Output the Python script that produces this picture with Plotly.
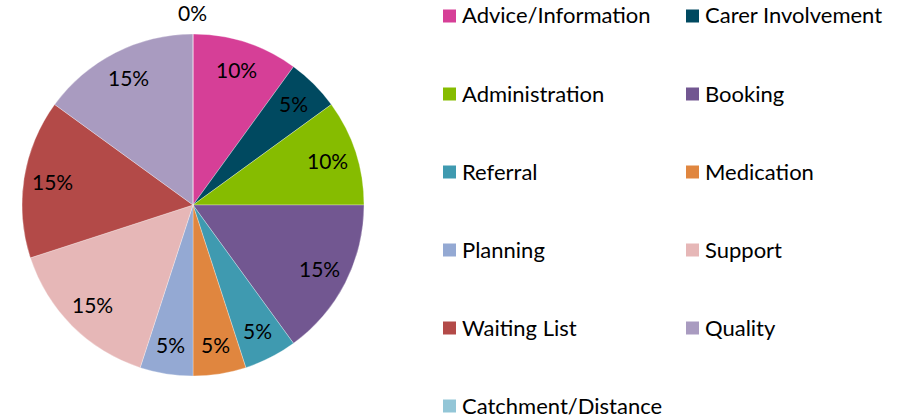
import math
import plotly.graph_objects as go

categories = [
    "Advice/Information", "Carer Involvement", "Administration", "Booking",
    "Referral", "Medication", "Planning", "Support", "Waiting List",
    "Quality", "Catchment/Distance",
]
counts = [2, 1, 2, 3, 1, 1, 1, 3, 3, 3, 0]
colors = [
    "#D63F97", "#004960", "#86BC00", "#725791", "#3F9AB0", "#E0863F",
    "#94A9D3", "#E6B7B7", "#B34A48", "#A99BC0", "#93C6D7",
]

W, H = 902, 420
FONT = "Lato, 'Open Sans', sans-serif"
total = sum(counts)
pct = [f"{round(100 * c / total)}%" for c in counts]

# pie placement (pixels): centre and radius
CX, CY, R = 193, 205, 171

fig = go.Figure(
    go.Pie(
        labels=categories,
        values=counts,
        textinfo="none",
        sort=False,
        direction="clockwise",
        rotation=0,
        marker=dict(colors=colors, line=dict(color="white", width=0.3)),
        domain=dict(x=[(CX - R) / W, (CX + R) / W],
                    y=[1 - (CY + R) / H, 1 - (CY - R) / H]),
        showlegend=False,
        hoverinfo="label+percent",
    )
)

# percentage labels at the middle angle of each slice, zero slices outside the rim
cum = 0
for c, p in zip(counts, pct):
    mid = (cum + c / 2) / total * 2 * math.pi
    cum += c
    rr = 0.83 * R if c > 0 else 1.12 * R
    px = CX + rr * math.sin(mid)
    py = CY - rr * math.cos(mid) - 1
    fig.add_annotation(
        x=px / W, y=1 - py / H, xref="paper", yref="paper",
        xanchor="center", yanchor="middle",
        text=p, showarrow=False,
        font=dict(family=FONT, size=21, color="#000000"),
    )

# two-column legend
col_x = [443, 686]
row_y0, row_step = 16, 78
for i, (name, col) in enumerate(zip(categories, colors)):
    cx = col_x[i % 2]
    cy = row_y0 + row_step * (i // 2)
    fig.add_shape(
        type="rect", xref="paper", yref="paper",
        x0=cx / W, x1=(cx + 13) / W,
        y0=1 - (cy + 6.5) / H, y1=1 - (cy - 6.5) / H,
        fillcolor=col, line=dict(width=0),
    )
    fig.add_annotation(
        x=(cx + 17) / W, y=1 - (cy - 1) / H, xref="paper", yref="paper",
        xanchor="left", yanchor="middle", text=name, showarrow=False,
        font=dict(family=FONT, size=22, color="#000000"),
    )

fig.update_layout(
    width=W, height=H,
    margin=dict(l=0, r=0, t=0, b=0),
    paper_bgcolor="white", plot_bgcolor="white",
)

fig.write_html("out.html")
